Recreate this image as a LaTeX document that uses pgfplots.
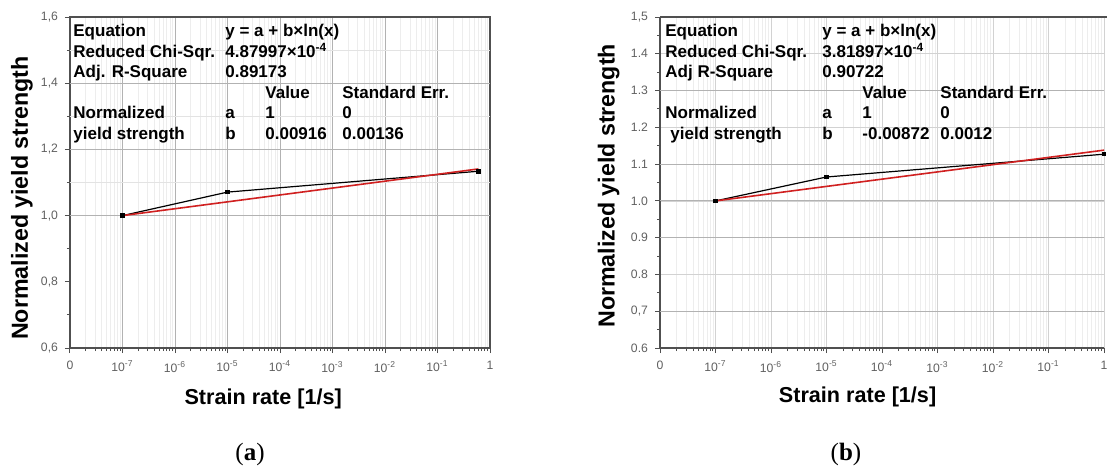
\documentclass[border=0pt]{standalone}
\usepackage{fontspec}
\setmainfont{Liberation Sans}
\newfontfamily\capfont{Liberation Serif}
\usepackage{pgfplots}
\pgfplotsset{compat=1.18}
\def\mlist{0.301,0.477,0.602,0.699,0.778,0.845,0.903,0.954,1.301,1.477,1.602,1.699,1.778,1.845,1.903,1.954,2.301,2.477,2.602,2.699,2.778,2.845,2.903,2.954,3.301,3.477,3.602,3.699,3.778,3.845,3.903,3.954,4.301,4.477,4.602,4.699,4.778,4.845,4.903,4.954,5.301,5.477,5.602,5.699,5.778,5.845,5.903,5.954,6.301,6.477,6.602,6.699,6.778,6.845,6.903,6.954,7.301,7.477,7.602,7.699,7.778,7.845,7.903,7.954}
\definecolor{axgray}{HTML}{505050}
\definecolor{fitred}{HTML}{D02020}
\pgfplotsset{
 mystyle/.style={
  scale only axis, height=165.5pt, anchor=south west,
  xmin=0, xmax=8, xtick={0,1,2,3,4,5,6,7,8},
  xticklabels={0,10\textsuperscript{-7},10\textsuperscript{-6},10\textsuperscript{-5},10\textsuperscript{-4},10\textsuperscript{-3},10\textsuperscript{-2},10\textsuperscript{-1},1},
  minor xtick=\mlist,
  tick align=outside, tick pos=left,
  major tick length=2.5pt, minor tick length=1.5pt,
  axis line style={axgray, line width=0.7pt},
  tick style={axgray, line width=0.5pt},
  xmajorgrids, xminorgrids,
  major grid style={gray!60, line width=0.5pt},
  minor grid style={gray!14, line width=0.4pt},
  tick label style={font=\fontsize{6.1}{7}\selectfont, text=gray!75!black},
  xticklabel style={yshift=-0.5pt},
  /pgf/number format/assume math mode=true,
  label style={font=\fontsize{10.8}{12}\selectfont\bfseries, text=black},
  clip=false,
 }
}
\newcommand\annf{\fontsize{8.5}{10}\selectfont\bfseries}
\begin{document}
\begin{tikzpicture}
\useasboundingbox (0,0) rectangle (553.5pt,234pt);
\clip (0,0) rectangle (553.5pt,234pt);
% ---------- panel (a)
\begin{axis}[mystyle, at={(35pt,60pt)}, width=210pt,
  ymin=0.6, ymax=1.6, ytick={0.6,0.8,1.0,1.2,1.4,1.6},
  yticklabels={{0,6},{0,8},{1,0},{1,2},{1,4},{1,6}},
  minor ytick={0.7,0.9,1.1,1.3,1.5},
  extra y ticks={1.0,1.2,1.4}, extra y tick labels={},
  extra y tick style={grid=major, major grid style={gray!60, line width=0.5pt}},
  xlabel={Strain rate [1/s]}, ylabel={Normalized yield strength},
  xlabel style={at={(axis description cs:0.46,-0.172)}, anchor=base},
  ylabel style={at={(axis description cs:-0.1,0.453)}, anchor=base, font=\fontsize{11.6}{12}\selectfont\bfseries},
]
\draw[gray!22, line width=0.4pt] (axis cs:0,1.1) -- (axis cs:8,1.1);
\draw[gray!22, line width=0.4pt] (axis cs:0,1.3) -- (axis cs:8,1.3);
\draw[gray!22, line width=0.4pt] (axis cs:0,1.5) -- (axis cs:8,1.5);
\addplot[black, line width=0.6pt, mark=square*, mark size=0.85pt] coordinates {(1,1.000) (3,1.071) (7.78,1.134)};
\addplot[fitred, line width=0.8pt] coordinates {(1,1.000) (7.78,1.141)};
\end{axis}
% ---------- panel (b)
\begin{axis}[mystyle, at={(330pt,60pt)}, width=222pt,
  axis x line*=bottom, axis y line*=left,
  ymin=0.6, ymax=1.5, ytick={0.6,0.7,0.8,0.9,1.0,1.1,1.2,1.3,1.4,1.5},
  yticklabels={0.6,{0,7},0.8,0.9,1.0,1.1,1.2,1.3,1.4,{1,5}},
  minor ytick={0.65,0.75,0.85,0.95,1.05,1.15,1.25,1.35,1.45},
  ymajorgrids, major grid style={gray!35, line width=0.4pt},
  extra y ticks={0.7,0.9,1.1,1.3}, extra y tick labels={},
  extra y tick style={grid=major, major grid style={gray!60, line width=0.5pt}},
  xlabel={Strain rate [1/s]}, ylabel={Normalized yield strength},
  xlabel style={at={(axis description cs:0.445,-0.166)}, anchor=base},
  ylabel style={at={(axis description cs:-0.102,0.49)}, anchor=base, font=\fontsize{11.6}{12}\selectfont\bfseries},
]
\draw[gray!60, line width=0.5pt] (axis cs:0,1.0) -- (axis cs:8,1.0);
\draw[axgray, line width=0.7pt] (rel axis cs:0,1) -- (rel axis cs:1.05,1);
\addplot[black, line width=0.6pt, mark=square*, mark size=0.85pt] coordinates {(1,1.000) (3,1.065) (8,1.127)};
\addplot[fitred, line width=0.8pt] coordinates {(1,1.000) (8,1.138)};
\end{axis}
% ---------- annotations
\begin{scope}[every node/.style={anchor=base west, inner sep=0pt, font=\annf}]
\node at (36.5pt,216pt) {Equation};
\node at (112.5pt,216pt) {y = a + b×ln(x)};
\node at (36.5pt,205.5pt) {Reduced Chi-Sqr.};
\node at (112.5pt,205.5pt) {4.87997×10\textsuperscript{-4}};
\node at (36.5pt,195.5pt) {Adj. R-Square};
\node at (112.5pt,195.5pt) {0.89173};
\node at (132.5pt,185pt) {Value};
\node at (171pt,185pt) {Standard Err.};
\node at (36.5pt,175pt) {Normalized};
\node at (112.5pt,175pt) {a};
\node at (132.5pt,175pt) {1};
\node at (171pt,175pt) {0};
\node at (36.5pt,164.5pt) {yield strength};
\node at (112.5pt,164.5pt) {b};
\node at (132.5pt,164.5pt) {0.00916};
\node at (171pt,164.5pt) {0.00136};
\node at (332.5pt,216pt) {Equation};
\node at (411pt,216pt) {y = a + b×ln(x)};
\node at (332.5pt,205.5pt) {Reduced Chi-Sqr.};
\node at (411pt,205.5pt) {3.81897×10\textsuperscript{-4}};
\node at (332.5pt,195.5pt) {Adj R-Square};
\node at (411pt,195.5pt) {0.90722};
\node at (431pt,185pt) {Value};
\node at (470pt,185pt) {Standard Err.};
\node at (332.5pt,175pt) {Normalized};
\node at (411pt,175pt) {a};
\node at (431pt,175pt) {1};
\node at (470pt,175pt) {0};
\node at (335pt,164.5pt) {yield strength};
\node at (411pt,164.5pt) {b};
\node at (431pt,164.5pt) {-0.00872};
\node at (470pt,164.5pt) {0.0012};
\end{scope}
% ---------- captions
\node[anchor=base, font=\capfont\fontsize{12.5}{14}\selectfont] at (125pt,4pt) {(\textbf{a})};
\node[anchor=base, font=\capfont\fontsize{12.5}{14}\selectfont] at (423pt,4pt) {(\textbf{b})};
\end{tikzpicture}
\end{document}
